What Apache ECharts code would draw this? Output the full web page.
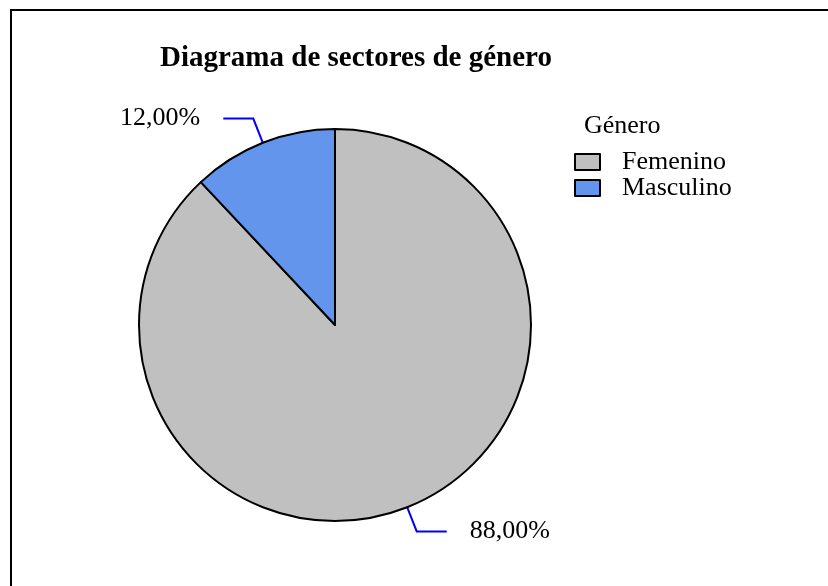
<!DOCTYPE html>
<html>
<head>
<meta charset="utf-8">
<script src="https://cdn.jsdelivr.net/npm/echarts@6/dist/echarts.min.js"></script>
<style>html,body{margin:0;padding:0;background:#fff}#c{width:828px;height:586px}</style>
</head>
<body>
<div id="c"></div>
<script>
var categories = ['Femenino', 'Masculino'];
var percentages = [88, 12];
var colors = ['#c0c0c0', '#6495ed'];
var chartTitle = 'Diagrama de sectores de género';
var legendTitle = 'Género';

var FONT = '"Liberation Serif", "Times New Roman", serif';
var chart = echarts.init(document.getElementById('c'));
var data = categories.map(function (c, i) {
  return { name: c, value: percentages[i], itemStyle: { color: colors[i] } };
});
chart.setOption({
  animation: false,
  backgroundColor: '#fff',
  title: [
    { text: chartTitle, left: 155, top: 39, textStyle: { fontFamily: FONT, fontSize: 29, fontWeight: 'bold', color: '#000' } },
    { text: legendTitle, left: 579, top: 108, textStyle: { fontFamily: FONT, fontSize: 26, fontWeight: 'normal', color: '#000' } }
  ],
  legend: {
    orient: 'vertical',
    left: 569,
    top: 144,
    icon: 'rect',
    itemWidth: 25,
    itemHeight: 16,
    itemGap: 0,
    itemStyle: { borderColor: '#000', borderWidth: 2 },
    textStyle: { fontFamily: FONT, fontSize: 26, color: '#000', lineHeight: 26, padding: [0, 0, 0, 17] },
    data: categories
  },
  graphic: [
    { type: 'rect', shape: { x: 11, y: 10, width: 900, height: 700 }, style: { fill: 'none', stroke: '#000', lineWidth: 2 }, silent: true }
  ],
  series: [{
    type: 'pie',
    center: [335, 325],
    radius: 196,
    startAngle: 90,
    clockwise: true,
    avoidLabelOverlap: false,
    data: data,
    itemStyle: { borderColor: '#000', borderWidth: 2 },
    label: {
      show: true,
      position: 'outside',
      fontFamily: FONT,
      fontSize: 26,
      color: '#000',
      distanceToLabelLine: 23,
      formatter: function (p) { return p.value.toFixed(2).replace('.', ',') + '%'; }
    },
    labelLine: { show: true, length: 26, length2: 30, lineStyle: { color: '#0000ff', width: 2 } },
    emphasis: { disabled: true }
  }]
});
</script>
</body>
</html>
